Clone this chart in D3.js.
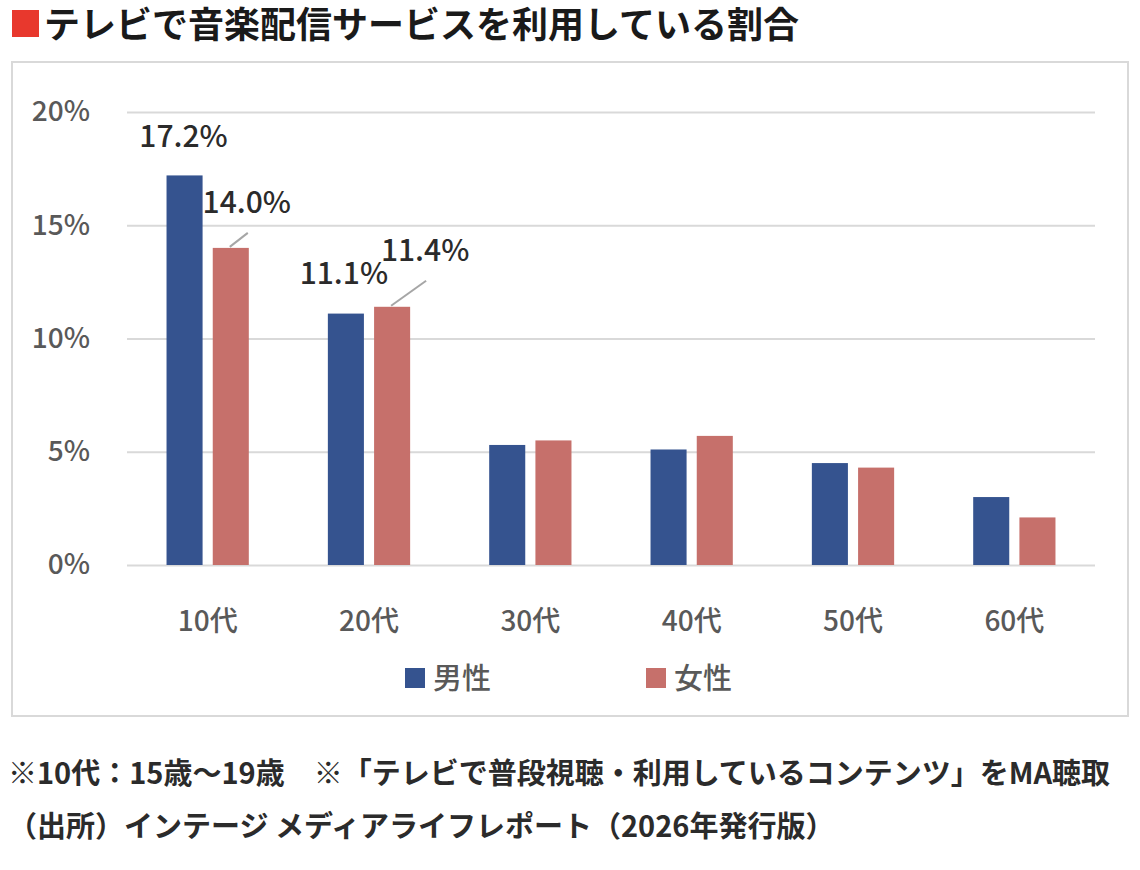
<!DOCTYPE html>
<html>
<head>
<meta charset="utf-8">
<script src="https://cdn.jsdelivr.net/npm/d3@7/dist/d3.min.js"></script>
<style>
  html, body { margin: 0; padding: 0; background: #fff; }
  svg { display: block; font-family: "Noto Sans CJK JP", "Noto Sans", sans-serif; }
</style>
</head>
<body>
<svg id="chart" width="1140" height="870"></svg>
<script>
// chart data
const categories = ["10代", "20代", "30代", "40代", "50代", "60代"];
const seriesNames = ["男性", "女性"];
const maleValues = [17.2, 11.1, 5.3, 5.1, 4.5, 3.0];
const femaleValues = [14.0, 11.4, 5.5, 5.7, 4.3, 2.1];
const yTicks = [0, 5, 10, 15, 20];
// only the first two age groups carry value labels
const labelledGroups = ["10代", "20代"];

const titleText = "テレビで音楽配信サービスを利用している割合";
const noteLines = [
  "※10代：15歳〜19歳　※「テレビで普段視聴・利用しているコンテンツ」をMA聴取",
  "（出所）インテージ メディアライフレポート（2026年発行版）"
];

const COLORS = {
  male: "#35538f",
  female: "#c6706b",
  grid: "#d9d9d9",
  axisText: "#595959",
  label: "#2b2b2b",
  leader: "#a6a6a6",
  title: "#1a1a1a",
  accent: "#e8382d"
};

const svg = d3.select("#chart");

// title with red square marker
svg.append("rect")
  .attr("x", 12).attr("y", 10)
  .attr("width", 27).attr("height", 27)
  .attr("fill", COLORS.accent);

svg.append("text")
  .attr("x", 44).attr("y", 38)
  .attr("font-size", 36)
  .attr("font-weight", 700)
  .attr("fill", COLORS.title)
  .text(titleText);

// chart panel frame
svg.append("rect")
  .attr("x", 12).attr("y", 62)
  .attr("width", 1116).attr("height", 654)
  .attr("fill", "#fff")
  .attr("stroke", COLORS.grid)
  .attr("stroke-width", 2);

const plot = { left: 127, right: 1095, top: 112, bottom: 565 };

const y = d3.scaleLinear()
  .domain([0, 20])
  .range([plot.bottom, plot.top]);

const x0 = d3.scaleBand()
  .domain(categories)
  .range([plot.left, plot.right])
  .paddingInner(0.49)
  .paddingOuter(0.245);

const x1 = d3.scaleBand()
  .domain(seriesNames)
  .range([0, x0.bandwidth()])
  .paddingInner(0.22);

const color = d3.scaleOrdinal()
  .domain(seriesNames)
  .range([COLORS.male, COLORS.female]);

// gridlines + y labels
const yAxis = d3.axisLeft(y)
  .tickValues(yTicks)
  .tickSize(-(plot.right - plot.left))
  .tickPadding(37)
  .tickFormat(d => d + "%");

const gy = svg.append("g")
  .attr("transform", `translate(${plot.left},0)`)
  .call(yAxis);
gy.select(".domain").remove();
gy.selectAll(".tick line")
  .attr("stroke", COLORS.grid)
  .attr("stroke-width", 2);
gy.selectAll(".tick text")
  .attr("font-size", 28)
  .attr("font-weight", 500)
  .attr("fill", COLORS.axisText)
  .attr("font-family", "'Noto Sans CJK JP', sans-serif");

// x labels
const xAxis = d3.axisBottom(x0).tickSize(0).tickPadding(46);
const gx = svg.append("g")
  .attr("transform", `translate(0,${plot.bottom})`)
  .call(xAxis);
gx.select(".domain").remove();
gx.selectAll(".tick text")
  .attr("font-size", 28)
  .attr("font-weight", 500)
  .attr("fill", COLORS.axisText)
  .attr("font-family", "'Noto Sans CJK JP', sans-serif");

// bars
const rows = categories.map((c, i) => ({
  category: c,
  values: [
    { series: "男性", value: maleValues[i] },
    { series: "女性", value: femaleValues[i] }
  ]
}));

const groups = svg.append("g").selectAll("g")
  .data(rows)
  .join("g")
  .attr("transform", d => `translate(${x0(d.category)},0)`);

groups.selectAll("rect")
  .data(d => d.values)
  .join("rect")
  .attr("x", d => x1(d.series))
  .attr("y", d => y(d.value))
  .attr("width", x1.bandwidth())
  .attr("height", d => y(0) - y(d.value))
  .attr("fill", d => color(d.series));

// value labels (manually nudged like the original, female labels pulled off with a leader line)
const labelNudge = {
  "10代": { "男性": [-1, -28], "女性": [16, -35] },
  "20代": { "男性": [-2, -30], "女性": [33, -46] }
};

const labels = [];
rows.filter(r => labelledGroups.includes(r.category)).forEach(r => {
  r.values.forEach(v => {
    const cx = x0(r.category) + x1(v.series) + x1.bandwidth() / 2;
    const top = y(v.value);
    const n = labelNudge[r.category][v.series];
    labels.push({ ...v, cx, top, lx: cx + n[0], ly: top + n[1], leader: v.series === "女性" });
  });
});

svg.append("g").selectAll("line")
  .data(labels.filter(d => d.leader))
  .join("line")
  .attr("x1", d => d.cx - 1)
  .attr("y1", d => d.top - 1)
  .attr("x2", d => d.lx + 1)
  .attr("y2", d => d.ly + 20)
  .attr("stroke", COLORS.leader)
  .attr("stroke-width", 2);

svg.append("g").selectAll("text")
  .data(labels)
  .join("text")
  .attr("x", d => d.lx)
  .attr("y", d => d.ly)
  .attr("text-anchor", "middle")
  .attr("font-size", 30)
  .attr("font-weight", 500)
  .attr("fill", COLORS.label)
  .text(d => d.value.toFixed(1) + "%");

// legend
const legend = svg.append("g").selectAll("g")
  .data(seriesNames)
  .join("g")
  .attr("transform", (d, i) => `translate(${405 + i * 241},668)`);

legend.append("rect")
  .attr("width", 20).attr("height", 20)
  .attr("fill", d => color(d));

legend.append("text")
  .attr("x", 28).attr("y", 21)
  .attr("font-size", 29)
  .attr("font-weight", 500)
  .attr("fill", COLORS.axisText)
  .text(d => d);

// footnotes
svg.append("g").selectAll("text")
  .data(noteLines)
  .join("text")
  .attr("x", 8)
  .attr("y", (d, i) => 784 + i * 53)
  .attr("font-size", 29)
  .attr("font-weight", 700)
  .attr("fill", "#2b2b2b")
  .text(d => d);
</script>
</body>
</html>
